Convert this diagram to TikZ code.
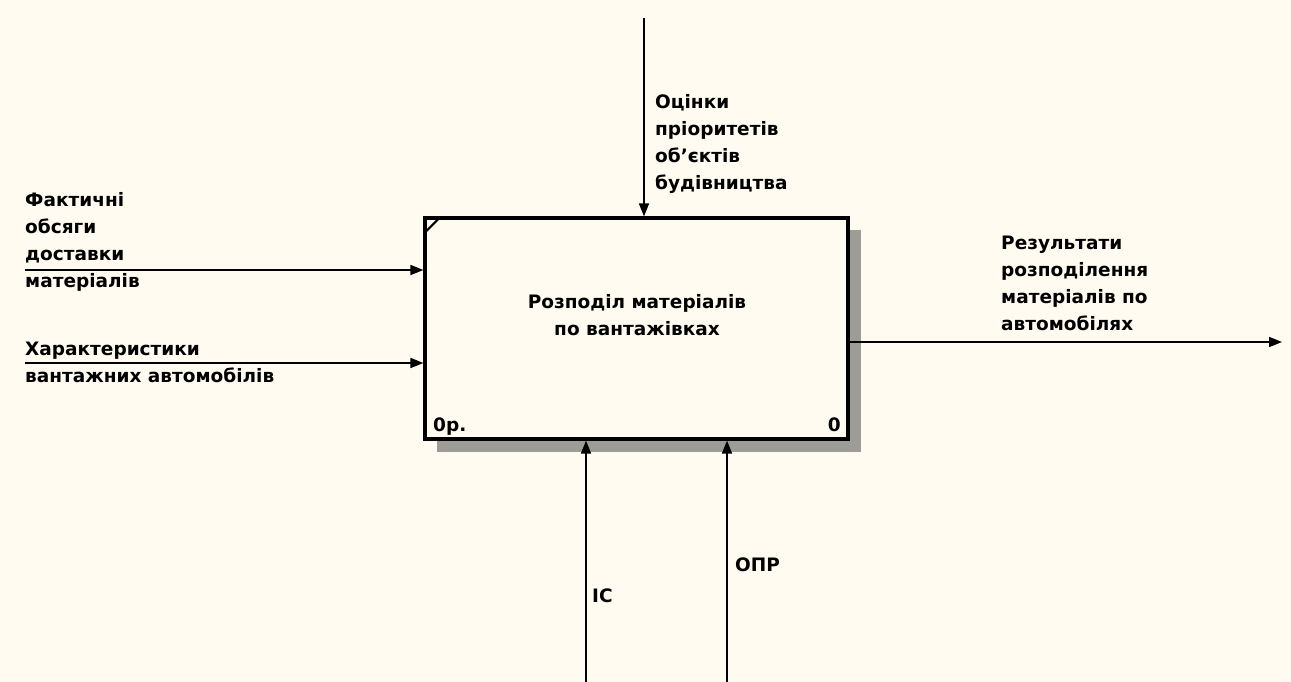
\documentclass[tikz,border=0pt]{standalone}
\usepackage{fontspec}
\setmainfont{DejaVu Sans}
\usetikzlibrary{arrows.meta}
\definecolor{paper}{HTML}{FFFBF0}
\definecolor{shadowgray}{HTML}{9E9C97}
\begin{document}
\begin{tikzpicture}[x=1pt,y=-1pt,
  txt/.style={font=\bfseries\fontsize{18.5}{27}\selectfont},
  lbl/.style={txt, align=left, inner sep=0pt, anchor=west},
  flow/.style={line width=1.7pt, -{Triangle[length=13pt,width=10pt]}}]
% sheet
\fill[paper] (0,0) rectangle (1291,682);
\useasboundingbox (0,0) rectangle (1291,682);

% activity box with its drop shadow
\fill[shadowgray] (437,230) rectangle (861,452);
\node[draw, line width=3.2pt, fill=paper, minimum width=423pt, minimum height=221pt, inner sep=0pt] (box) at (636.5,328.5) {};
\draw[line width=2pt] ([shift={(1.6pt,-16pt)}]box.north west) -- ([shift={(16pt,-1.6pt)}]box.north west);
\node[txt, align=center] (title) at (637,315) {Розподіл матеріалів\\по вантажівках};
\node[txt, anchor=base west, inner sep=0pt] (cost) at (433,431) {0р.};
\node[txt, anchor=base east, inner sep=0pt] (num) at (841,431) {0};

% free ends of the arrows
\coordinate (src1) at (25,270);
\coordinate (src2) at (25,363);
\coordinate (ctl) at (644,18);
\coordinate (out) at (1282,342);
\coordinate (mech1) at (586,682);
\coordinate (mech2) at (727,682);

% inputs, control, output, mechanisms
\draw[flow] (src1) -- (src1 -| box.west);
\draw[flow] (src2) -- (src2 -| box.west);
\draw[flow] (ctl) -- (ctl |- box.north);
\draw[flow] (box.east |- out) -- (out);
\draw[flow] (mech1) -- (mech1 |- box.south);
\draw[flow] (mech2) -- (mech2 |- box.south);

% arrow labels
\node[lbl] (l1) at (25,241.5) {Фактичні\\обсяги\\доставки\\матеріалів};
\node[lbl] (l2) at (25,362) {Характеристики\\вантажних автомобілів};
\node[lbl] (l3) at (655,143.5) {Оцінки\\пріоритетів\\об'єктів\\будівництва};
\node[lbl] (l4) at (1001,283) {Результати\\розподілення\\матеріалів по\\автомобілях};
\node[lbl] (l5) at (592,596) {ІС};
\node[lbl] (l6) at (735,565) {ОПР};
\end{tikzpicture}
\end{document}
